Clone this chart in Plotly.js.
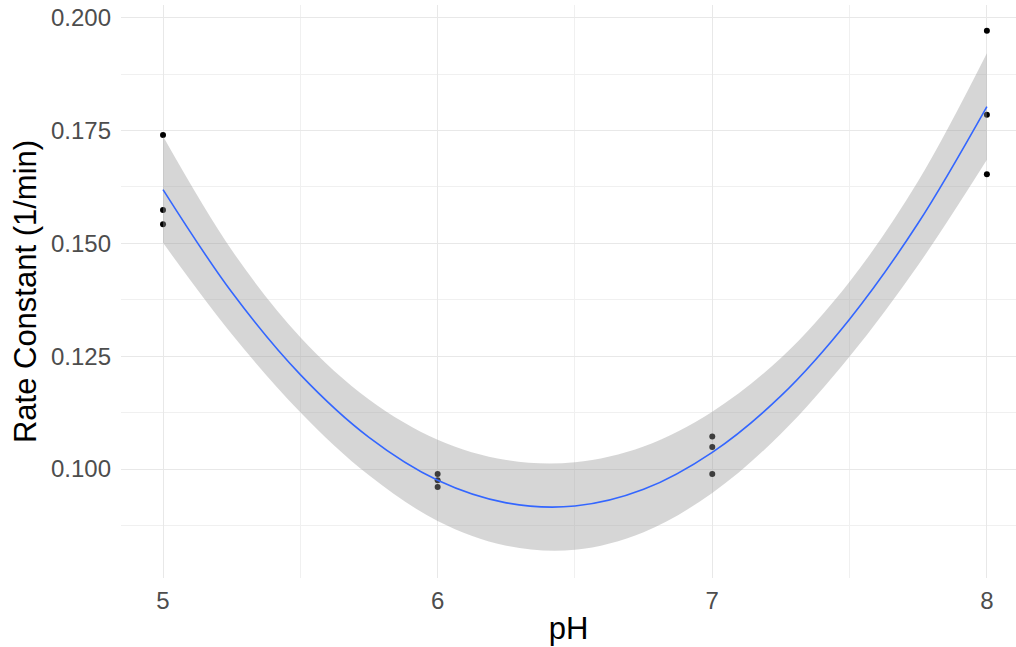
<!DOCTYPE html>
<html>
<head>
<meta charset="utf-8">
<script src="https://cdn.plot.ly/plotly-3.0.1.min.js"></script>
<style>html,body{margin:0;padding:0;background:#fff;}#chart{width:1016px;height:647px;}</style>
</head>
<body>
<div id="chart"></div>
<script>
// Observed data points
const pointPH   = [5, 5, 5, 6, 6, 6, 7, 7, 7, 8, 8, 8];
const pointRate = [0.1740, 0.1574, 0.1542, 0.0989, 0.0975, 0.0960, 0.1072, 0.1049, 0.0989, 0.1971, 0.1785, 0.1653];

// Smoothed fit and confidence band
const fitPH    = [5, 5.25, 5.5, 5.75, 6, 6.25, 6.5, 6.75, 7, 7.25, 7.5, 7.75, 8];
const fitRate  = [0.1619, 0.1392, 0.1209, 0.1070, 0.0975, 0.0925, 0.0918, 0.0955, 0.1037, 0.1162, 0.1332, 0.1545, 0.1803];
const fitUpper = [0.1737, 0.1485, 0.1292, 0.1154, 0.1065, 0.1020, 0.1015, 0.1050, 0.1127, 0.1246, 0.1415, 0.1638, 0.1921];
const fitLower = [0.1501, 0.1299, 0.1126, 0.0986, 0.0885, 0.0830, 0.0821, 0.0860, 0.0947, 0.1078, 0.1249, 0.1452, 0.1685];

const xTicks = [5, 6, 7, 8];
const xTickText = ['5', '6', '7', '8'];
const yTicks = [0.100, 0.125, 0.150, 0.175, 0.200];
const yTickText = ['0.100', '0.125', '0.150', '0.175', '0.200'];

const traces = [
  {x: pointPH, y: pointRate, type: 'scatter', mode: 'markers',
   marker: {color: '#000000', size: 6}, hoverinfo: 'x+y'},
  {x: fitPH, y: fitLower, type: 'scatter', mode: 'lines',
   line: {width: 0, shape: 'spline', color: 'rgba(0,0,0,0)'}, hoverinfo: 'skip'},
  {x: fitPH, y: fitUpper, type: 'scatter', mode: 'lines', fill: 'tonexty',
   fillcolor: 'rgba(153,153,153,0.4)',
   line: {width: 0, shape: 'spline', color: 'rgba(0,0,0,0)'}, hoverinfo: 'skip'},
  {x: fitPH, y: fitRate, type: 'scatter', mode: 'lines',
   line: {color: '#3366FF', width: 1.6, shape: 'spline'}}
];

const layout = {
  width: 1016, height: 647,
  margin: {l: 121, r: 0, t: 5, b: 69},
  paper_bgcolor: '#ffffff', plot_bgcolor: '#ffffff',
  showlegend: false,
  font: {family: 'Liberation Sans, Arial, sans-serif'},
  xaxis: {
    range: [4.847, 8.106], tickvals: xTicks, ticktext: xTickText,
    showgrid: true, gridcolor: '#e8e8e8', gridwidth: 1,
    minor: {dtick: 0.5, tick0: 4.5, showgrid: true, gridcolor: '#f0f0f0', gridwidth: 1},
    zeroline: false, showline: false, ticks: '',
    ticklabelstandoff: 6,
    tickfont: {size: 24, color: '#4d4d4d'},
    title: {text: 'pH', font: {size: 31, color: '#000000'}, standoff: 4},
    automargin: false
  },
  yaxis: {
    range: [0.07585, 0.2028], tickvals: yTicks, ticktext: yTickText,
    showgrid: true, gridcolor: '#e8e8e8', gridwidth: 1,
    minor: {dtick: 0.025, tick0: 0.0875, showgrid: true, gridcolor: '#f0f0f0', gridwidth: 1},
    zeroline: false, showline: false, ticks: '',
    ticklabelstandoff: 9,
    tickfont: {size: 24, color: '#4d4d4d'},
    title: {text: 'Rate Constant (1/min)', font: {size: 31, color: '#000000'}, standoff: 5},
    automargin: false
  }
};

Plotly.newPlot('chart', traces, layout, {displayModeBar: false, staticPlot: true});
</script>
</body>
</html>
